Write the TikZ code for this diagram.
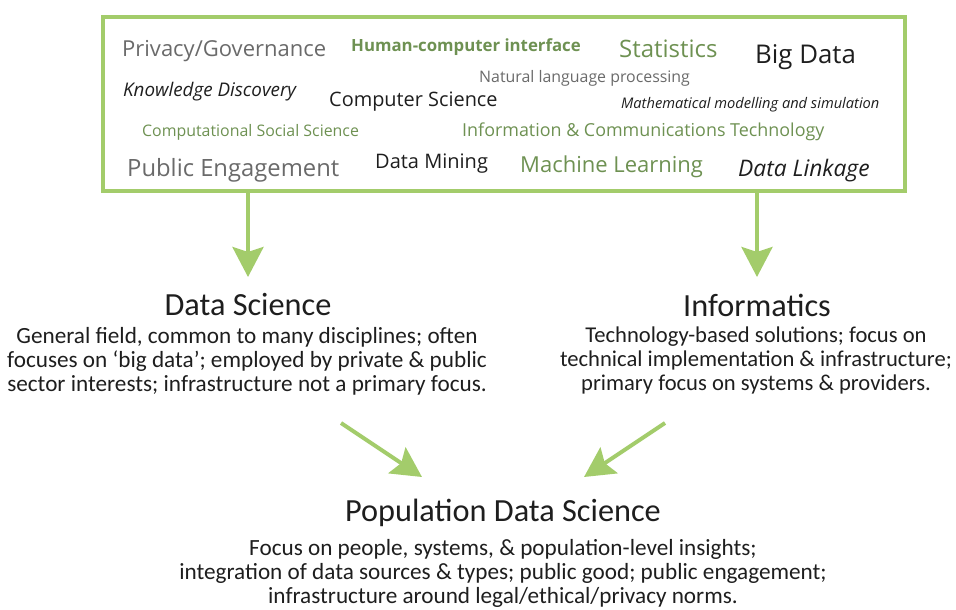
\documentclass[tikz,border=0pt]{standalone}
\usepackage{fontspec}
\setmainfont{Open Sans}
\newfontfamily\cali{Carlito}
\usetikzlibrary{arrows.meta}
\definecolor{boxgreen}{HTML}{A3CC6B}
\definecolor{wgreen}{HTML}{6E9152}
\definecolor{wgray}{HTML}{6A6A6A}
\definecolor{wdark}{HTML}{1E1E1E}
\tikzset{
  word/.style={anchor=west, inner sep=0pt},
  title/.style={inner sep=0pt, font=\cali\fontsize{32.3}{34}\selectfont, text=wdark},
  body/.style={inner sep=0pt, align=center, font=\cali\fontsize{23.2}{24}\selectfont, text=wdark},
  arr/.style={draw=boxgreen, line width=4pt, -{Stealth[length=30pt,width=31pt,inset=5pt]}}
}
\begin{document}
\begin{tikzpicture}[x=1pt,y=-1pt]
\useasboundingbox (0,0) rectangle (956,610);
\node[draw=boxgreen, line width=4pt, minimum width=802pt, minimum height=174pt, inner sep=0pt] (box) at (504,104) {};
\node[word, text=wgray, font=\fontsize{22}{26}\selectfont] (w1) at (122,51) {Privacy/Governance};
\node[word, text=wgreen, font=\fontsize{16.8}{18}\selectfont\bfseries] (w2) at (351,47) {Human-computer interface};
\node[word, text=wgreen, font=\fontsize{24}{26}\selectfont] (w3) at (619,49) {Statistics};
\node[word, text=wdark, font=\fontsize{25.8}{28}\selectfont] (w4) at (755,57) {Big Data};
\node[word, text=wgray, font=\fontsize{15.9}{18}\selectfont] (w5) at (479,78) {Natural language processing};
\node[word, text=wdark, font=\fontsize{18.8}{20}\selectfont\itshape] (w6) at (123,92) {Knowledge Discovery};
\node[word, text=wdark, font=\fontsize{19.9}{22}\selectfont] (w7) at (329,102) {Computer Science};
\node[word, text=wdark, font=\fontsize{14.65}{16}\selectfont\itshape] (w8) at (621,105) {Mathematical modelling and simulation};
\node[word, text=wgreen, font=\fontsize{15.9}{17}\selectfont] (w9) at (142,132) {Computational Social Science};
\node[word, text=wgreen, font=\fontsize{17.9}{20}\selectfont] (w10) at (462,132) {Information \& Communications Technology};
\node[word, text=wgray, font=\fontsize{23.8}{26}\selectfont] (w11) at (127,170) {Public Engagement};
\node[word, text=wdark, font=\fontsize{20}{20}\selectfont] (w12) at (375,164) {Data Mining};
\node[word, text=wgreen, font=\fontsize{22}{24}\selectfont] (w13) at (520,167) {Machine Learning};
\node[word, text=wdark, font=\fontsize{22.8}{24}\selectfont\itshape] (w14) at (738,171) {Data Linkage};

\node[title] (ds) at (248,305) {Data Science};
\node[body, anchor=north] (dsb) at (247,327) {General field, common to many disciplines; often\\focuses on ‘big data’; employed by private \& public\\sector interests; infrastructure not a primary focus.};
\node[title] (inf) at (757,305) {Informatics};
\node[body, anchor=north, font=\cali\fontsize{22.6}{24}\selectfont] (infb) at (756,327) {Technology-based solutions; focus on\\technical implementation \& infrastructure;\\primary focus on systems \& providers.};
\node[title] (pds) at (503,513) {Population Data Science};
\node[body, anchor=north] (pdsb) at (503,539) {Focus on people, systems, \& population-level insights;\\integration of data sources \& types; public good; public engagement;\\infrastructure around legal/ethical/privacy norms.};

\coordinate (t1) at (248,277);
\coordinate (t2) at (757,277);
\draw[arr] (box.south -| t1) -- (t1);
\draw[arr] (box.south -| t2) -- (t2);
\coordinate (d1s) at (341,423);
\coordinate (d1e) at (422,477);
\coordinate (d2s) at (665,423);
\coordinate (d2e) at (584,477);
\draw[arr] (d1s) -- (d1e);
\draw[arr] (d2s) -- (d2e);
\end{tikzpicture}
\end{document}
